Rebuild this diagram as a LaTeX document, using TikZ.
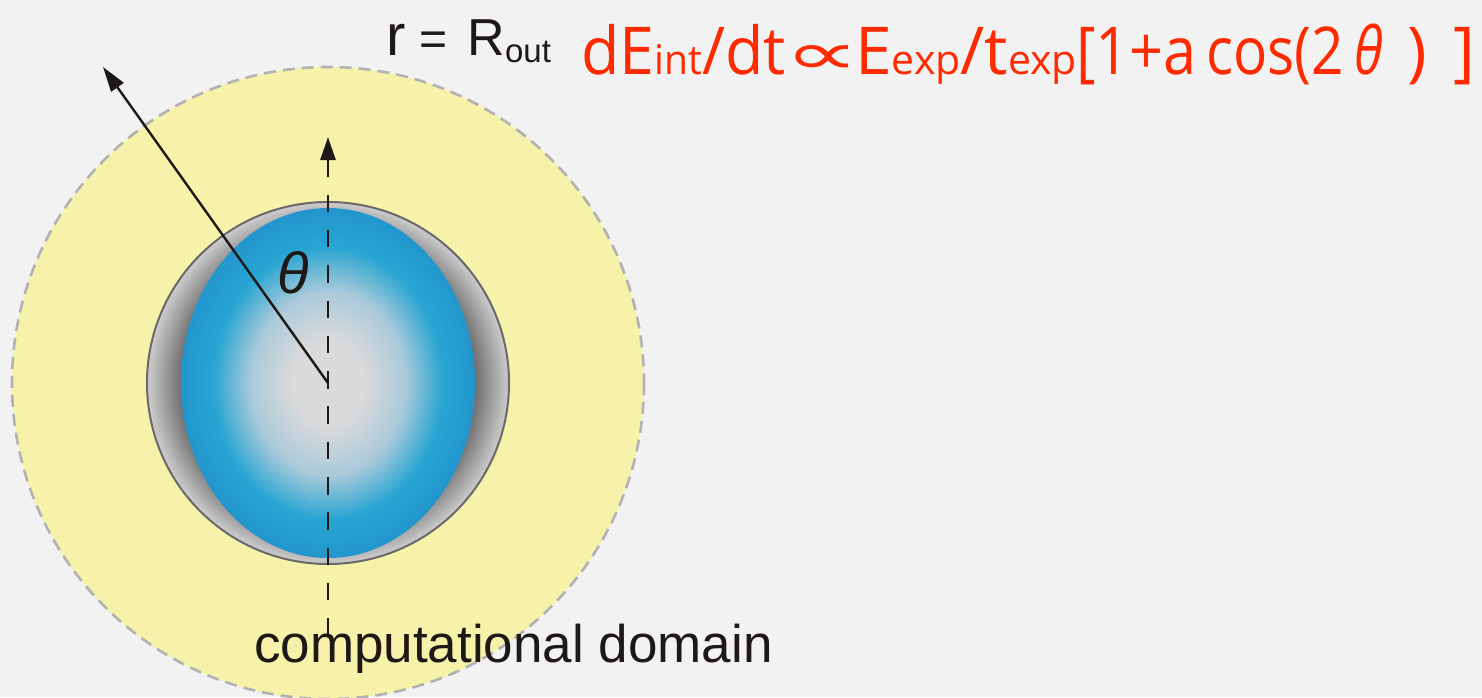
\documentclass[tikz,border=0pt]{standalone}
\usepackage{graphicx}
\usepackage{fontspec}
\setmainfont{Liberation Sans}
\newfontfamily\formulafont{Open Sans}
\newfontfamily\symbfont{DejaVu Sans}
\usetikzlibrary{arrows.meta}

\definecolor{bgpaper}{RGB}{242,242,242}
\definecolor{domainyellow}{RGB}{246,242,170}
\definecolor{domainedge}{RGB}{178,178,178}
\definecolor{shelledge}{RGB}{105,105,105}
\definecolor{shelldark}{RGB}{95,95,95}
\definecolor{shelllight}{RGB}{205,205,205}
\definecolor{shellmid}{RGB}{130,130,130}
\definecolor{corecenter}{RGB}{218,218,218}
\definecolor{corehaze}{RGB}{172,202,218}
\definecolor{corebright}{RGB}{40,165,210}
\definecolor{coreedge}{RGB}{34,150,205}
\definecolor{formulared}{RGB}{255,42,0}
\definecolor{inkblack}{RGB}{30,24,22}

% grey shell: dark where the blue core meets it, light towards the rim
\pgfdeclareradialshading{shellshade}{\pgfpoint{0bp}{0bp}}{%
  color(0bp)=(shellmid); color(19.5bp)=(shelldark); color(25bp)=(shelllight); color(50bp)=(shelllight)}
% blue core: pale grey centre fading to blue
\pgfdeclareradialshading{coreshade}{\pgfpoint{0bp}{0bp}}{%
  color(0bp)=(corecenter); color(6bp)=(corecenter); color(13bp)=(corehaze);
  color(19.5bp)=(corebright); color(25bp)=(coreedge); color(50bp)=(coreedge)}

\newcommand\fsub[1]{{\fontsize{41}{41}\selectfont #1}}
\newcommand\narrowed[1]{\scalebox{0.9}[1]{#1}}

\tikzset{
  axisline/.style={inkblack, line width=2.8pt, dash pattern=on 17.5pt off 17.8pt},
  radiusline/.style={inkblack, line width=2.4pt},
  plainlabel/.style={anchor=base west, inner sep=0pt, text=inkblack},
}

\begin{document}
\begin{tikzpicture}[x=1pt, y=-1pt]
  \useasboundingbox (0,0) rectangle (1482,697);
  \clip (0,0) rectangle (1482,697);
  \fill[bgpaper] (0,0) rectangle (1482,697);

  \coordinate (c) at (328,383);
  \coordinate (axtop) at (328,137);
  \coordinate (axbot) at (328,637);
  \coordinate (rtip) at (103,67);

  % computational domain
  \draw[domainedge, line width=2.6pt, dash pattern=on 12pt off 7pt, fill=domainyellow]
    (c) circle[radius=316];

  % star: grey shell and blue core
  \shadedraw[shading=shellshade, draw=shelledge, line width=2pt] (c) circle[radius=181];
  \shade[shading=coreshade] (c) ellipse[x radius=147, y radius=175];

  % symmetry axis and outer radius
  \draw[axisline, {Triangle[length=23pt,width=15pt]}-] (axtop) -- (axbot);
  \draw[radiusline, -{Triangle[length=25pt,width=15pt]}] (c) -- (rtip);

  \node[anchor=base, inner sep=0pt, text=inkblack] (theta) at (293,293)
    {\fontsize{58}{58}\selectfont\itshape θ};

  \node[plainlabel] (rout) at (386,55)
    {{\fontsize{58}{58}\selectfont r}\hspace{14pt}{\fontsize{48}{48}\selectfont =}\hspace{20pt}{\fontsize{52}{52}\selectfont R\raisebox{-7pt}{\fontsize{33}{33}\selectfont out}}};

  \node[anchor=base west, inner sep=0pt, text=formulared] (rate) at (581,74)
    {\formulafont\fontsize{66}{66}\selectfont
     \makebox[203pt][l]{\scalebox{0.95}[1]{dE\fsub{int}/dt}}%
     \makebox[71pt][l]{\symbfont\scalebox{1.6}[0.9]{∝}}%
     \makebox[221pt][l]{E\fsub{exp}/t\fsub{exp}}%
     \makebox[130pt][l]{\narrowed{[1+a}}%
     \makebox[148pt][l]{\scalebox{0.86}[1]{cos(2}}%
     \makebox[53pt][l]{\scalebox{0.8}[1]{\itshape θ}}%
     \makebox[46pt][l]{)}%
     ]};

  \node[plainlabel] (domain) at (254,662)
    {\fontsize{53}{53}\selectfont computational domain};
\end{tikzpicture}
\end{document}
